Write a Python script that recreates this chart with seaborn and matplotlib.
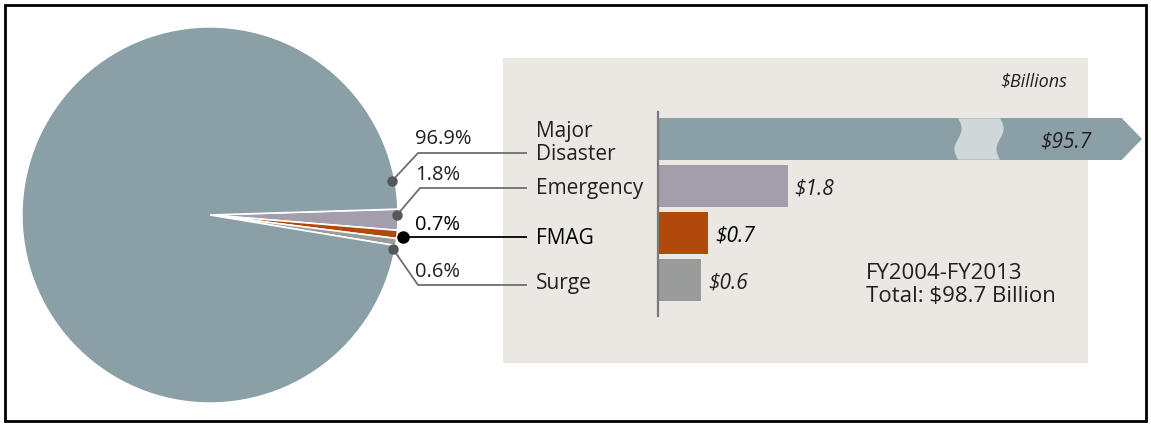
import numpy as np
import pandas as pd
import seaborn as sns
import matplotlib.pyplot as plt
from matplotlib.patches import Rectangle, Polygon
import matplotlib.transforms as mtransforms

sns.set_theme(style="white")
plt.rcParams["font.family"] = ["Open Sans", "DejaVu Sans"]

# data
categories = ["Major\nDisaster", "Emergency", "FMAG", "Surge"]
billions = [95.7, 1.8, 0.7, 0.6]
shares = [96.9, 1.8, 0.7, 0.6]
value_labels = ["$95.7", "$1.8", "$0.7", "$0.6"]
colors = ["#8a9fa6", "#a49dab", "#b0490b", "#999c9b"]
period = "FY2004-FY2013"
total_label = "Total: $98.7 Billion"

W, H = 1151, 426
fig = plt.figure(figsize=(W / 100, H / 100), dpi=100)


def px_axes(x0, y0, x1, y1, **kw):
    # axes placed by pixel box (top-left origin)
    return fig.add_axes([x0 / W, 1 - y1 / H, (x1 - x0) / W, (y1 - y0) / H], **kw)


ink = "#231f20"
lead = "#6d6e70"

# background layer: panel + border
bg = px_axes(0, 0, W, H, zorder=0)
bg.set_xlim(0, W)
bg.set_ylim(H, 0)
bg.axis("off")
bg.add_patch(Rectangle((503, 58), 585, 305, color="#ebe8e4", lw=0))
bg.add_patch(Rectangle((5, 5), 1141, 416, fill=False, ec="black", lw=2))

# pie
cx, cy, r = 210, 215, 190
pax = px_axes(cx - r, cy - r, cx + r, cy + r, zorder=1)
pie_vals = shares[1:] + shares[:1]
pie_cols = colors[1:] + colors[:1]
pax.pie(pie_vals, colors=pie_cols, startangle=1.8, counterclock=False,
        wedgeprops=dict(edgecolor="white", linewidth=1.2))
pax.set_xlim(-1.01, 1.01)
pax.set_ylim(-1.01, 1.01)
pax.set_aspect("auto")

# bars
bax = px_axes(658, 112, 1122, 316, zorder=2)
df = pd.DataFrame({"cat": categories, "val": billions})
sns.barplot(data=df, x="val", y="cat", hue="cat", palette=colors, legend=False,
            orient="h", width=0.88, saturation=1, linewidth=0, ax=bax)
bax.set_xlim(0, 464 / 72)
bax.set_ylim(3.766, -0.574)
bax.set_facecolor("none")
bax.set_xlabel("")
bax.set_ylabel("")
bax.set_xticks([])
bax.set_yticks([])
for s in ["top", "right", "bottom"]:
    bax.spines[s].set_visible(False)
bax.spines["left"].set_color("#7a7a7a")
bax.spines["left"].set_linewidth(1.6)

# arrow tip and break on the truncated bar
big = bax.patches[0]
y0, y1 = big.get_y(), big.get_y() + big.get_height()
blend = mtransforms.blended_transform_factory(bax.transAxes, bax.transData)
tip = 20 / 464
bax.add_patch(Polygon([(1, y0), (1 + tip, (y0 + y1) / 2), (1, y1)], closed=True,
                      color=colors[0], lw=0, transform=blend, clip_on=False))
yy = np.linspace(y0, y1, 30)
wave = 0.05 * np.sin((yy - y0) / (y1 - y0) * 2 * np.pi)
xa, xb = 300 / 72, 342 / 72
bx = np.concatenate([xa + wave, (xb + wave)[::-1]])
by = np.concatenate([yy, yy[::-1]])
bax.fill(bx, by, color="#d0d7d9", lw=0, zorder=3)

# text sits a few pixels lower than the box centre
down = mtransforms.offset_copy(blend, fig=fig, y=-3, units="dots")

# value labels
for i, (v, lab) in enumerate(zip(billions, value_labels)):
    col = "black" if categories[i] == "FMAG" else ink
    if i == 0:
        bax.text(0.88, i, lab, transform=down, ha="center", va="center",
                 style="italic", fontsize=15, color=ink, zorder=4)
    else:
        bax.annotate(lab, (v, i), xytext=(5, -2), textcoords="offset points",
                     ha="left", va="center", style="italic",
                     fontsize=15, color=col)

# category labels
cat_shift = [1, 0, 3, 1]
for i, c in enumerate(categories):
    col = "black" if c == "FMAG" else ink
    tr = mtransforms.offset_copy(blend, fig=fig, y=-3 - cat_shift[i], units="dots")
    bax.text((536 - 658) / 464, i, c, transform=tr, ha="left", va="center",
             fontsize=15, color=col, linespacing=1.15)

# foreground: leader lines, percentages, notes
fg = px_axes(0, 0, W, H, zorder=3)
fg.set_xlim(0, W)
fg.set_ylim(H, 0)
fg.axis("off")
leaders = [[(392, 181), (418, 153), (527, 153)],
           [(397, 215), (420, 188), (527, 188)],
           [(403, 237), (527, 237)],
           [(393, 249), (418, 285), (527, 285)]]
pct_y = [139, 175, 225, 272]
for i, pts in enumerate(leaders):
    xs, ys = zip(*pts)
    col = "black" if i == 2 else lead
    fg.plot(xs, ys, color=col, lw=1.3, solid_capstyle="butt")
    fg.plot(xs[0], ys[0], "o", color="black" if i == 2 else "#555759",
            ms=8 if i == 2 else 6.5)
    fg.text(415, pct_y[i], f"{shares[i]}%", ha="left", va="center",
            fontsize=14.5, color="black" if i == 2 else ink)

fg.text(1067, 81, "$Billions", ha="right", va="center", style="italic",
        fontsize=13, color=ink)
fg.text(866, 285, period + "\n" + total_label, ha="left", va="center",
        fontsize=16, color=ink, linespacing=1.15)

fig.savefig("out.png", dpi=100)
